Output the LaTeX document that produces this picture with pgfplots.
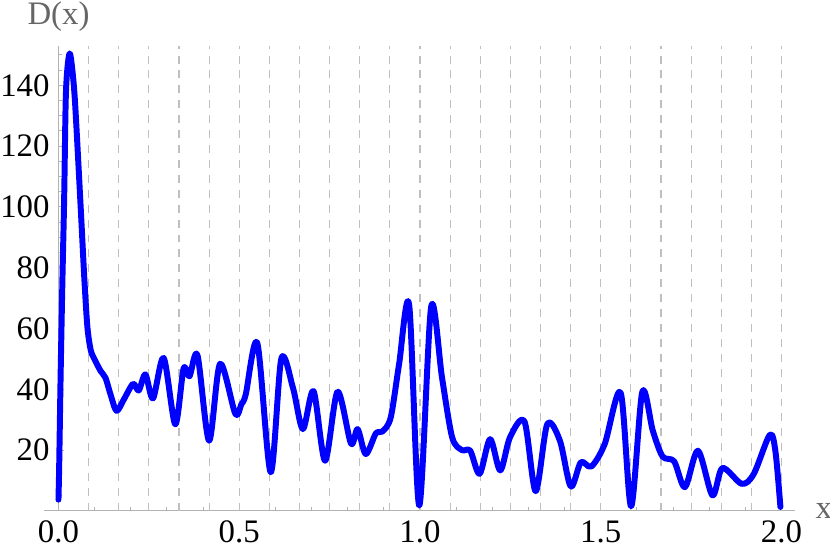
\documentclass[border=0pt]{standalone}
\usepackage{pgfplots}
\pgfplotsset{compat=1.18}
\usepackage{fontspec}
\setmainfont{Liberation Serif}
\begin{document}
\begin{tikzpicture}
\begin{axis}[
  scale only axis, width=377.85bp, height=233.6bp,
  xmin=-0.04, xmax=2.038, ymin=0, ymax=152.8,
  axis x line=bottom, axis y line=middle,
  axis line style={draw=gray!60, line width=0.5bp, -},
  tick align=inside,
  hide obscured x ticks=false, hide obscured y ticks=false,
  xtick={0,0.5,1,1.5,2}, xticklabels={\mbox{0.0},\mbox{0.5},\mbox{1.0},\mbox{1.5},\mbox{2.0}},
  minor xtick={0.1,0.2,0.3,0.4,0.6,0.7,0.8,0.9,1.1,1.2,1.3,1.4,1.6,1.7,1.8,1.9},
  ytick={20,40,60,80,100,120,140}, yticklabels={\mbox{20},\mbox{40},\mbox{60},\mbox{80},\mbox{100},\mbox{120},\mbox{140}},
  minor ytick={5,10,15,25,30,35,45,50,55,65,70,75,85,90,95,105,110,115,125,130,135,145,150},
  major tick length=3bp, minor tick length=2bp,
  every tick/.append style={draw=gray!60, line width=0.5bp},
  tick label style={font=\fontsize{16.5bp}{19bp}\selectfont\rmfamily, text=black},
  xticklabel style={anchor=north, inner sep=0pt, yshift=-4.7bp},
  yticklabel style={anchor=east, inner sep=0pt, xshift=-4.3bp},
  extra x ticks={0.083333,0.166667,0.25,0.333333,0.416667,0.5,0.583333,0.666667,0.75,0.833333,0.916667,1.0,1.083333,1.166667,1.25,1.333333,1.416667,1.5,1.583333,1.666667,1.75,1.833333,1.916667,2.0},
  extra x tick labels={},
  extra x tick style={grid=major, major tick length=0pt},
  major grid style={draw=gray!50, line width=0.6bp, dash pattern=on 4bp off 3.5bp},
  clip=false,
]
\addplot[draw={rgb,1:red,0;green,0;blue,1}, line width=3bp, smooth, line cap=round, line join=round] coordinates {
(0,3.7) (0.002,15) (0.006,45) (0.011,76.5) (0.0157,102.6) (0.020,135) (0.025,146) (0.031,150.5) (0.037,146.5) (0.0455,135) (0.0605,102) (0.0715,76.5) (0.080,60.5) (0.089,53) (0.098,50.3) (0.1166,46.0) (0.130,43.8) (0.144,38.3) (0.1607,32.9) (0.181,36.7) (0.2064,41.8) (0.222,39.6) (0.2405,44.9) (0.2615,37.0) (0.291,50.3) (0.323,28.5) (0.346,46.8) (0.3625,44.3) (0.3845,51.2) (0.4166,23.1) (0.447,48.4) (0.489,32.0) (0.506,35.1) (0.518,38.3) (0.550,55.2) (0.587,12.7) (0.6165,50.1) (0.6486,40.5) (0.676,26.9) (0.7055,39.4) (0.7375,16.5) (0.772,39.2) (0.809,22.2) (0.8275,26.9) (0.850,18.7) (0.878,25.5) (0.896,26.1) (0.919,30.7) (0.942,48.1) (0.970,67.8) (0.998,1.8) (1.031,67.2) (1.061,43.8) (1.089,24.2) (1.116,20.0) (1.139,19.8) (1.165,12.2) (1.194,23.6) (1.222,13.3) (1.249,24.2) (1.289,29.4) (1.320,6.5) (1.352,28.5) (1.387,23.1) (1.417,8.0) (1.445,16.0) (1.474,14.6) (1.511,22.0) (1.555,38.9) (1.584,1.5) (1.615,39.2) (1.644,26.4) (1.671,17.9) (1.703,16.3) (1.733,7.8) (1.769,19.8) (1.809,5.1) (1.8366,14.1) (1.89,8.9) (1.9235,12.2) (1.9675,25.0) (1.983,19.8) (1.997,1.3)
};
\node[anchor=base, text=black!60, font=\fontsize{16.5bp}{19bp}\selectfont, inner sep=0pt, yshift=10.85bp] at (axis cs:0,152.8) {D(x)};
\node[anchor=base west, text=black!60, font=\fontsize{16.5bp}{19bp}\selectfont, inner sep=0pt, xshift=10bp, yshift=-4bp] at (rel axis cs:1,0) {x};
\coordinate (bbA) at (rel axis cs:-0.0586,-0.080);
\coordinate (bbB) at (rel axis cs:1.0463,1.1);
\end{axis}
\pgfresetboundingbox
\path[use as bounding box] (bbA) rectangle (bbB);
\end{tikzpicture}
\end{document}
